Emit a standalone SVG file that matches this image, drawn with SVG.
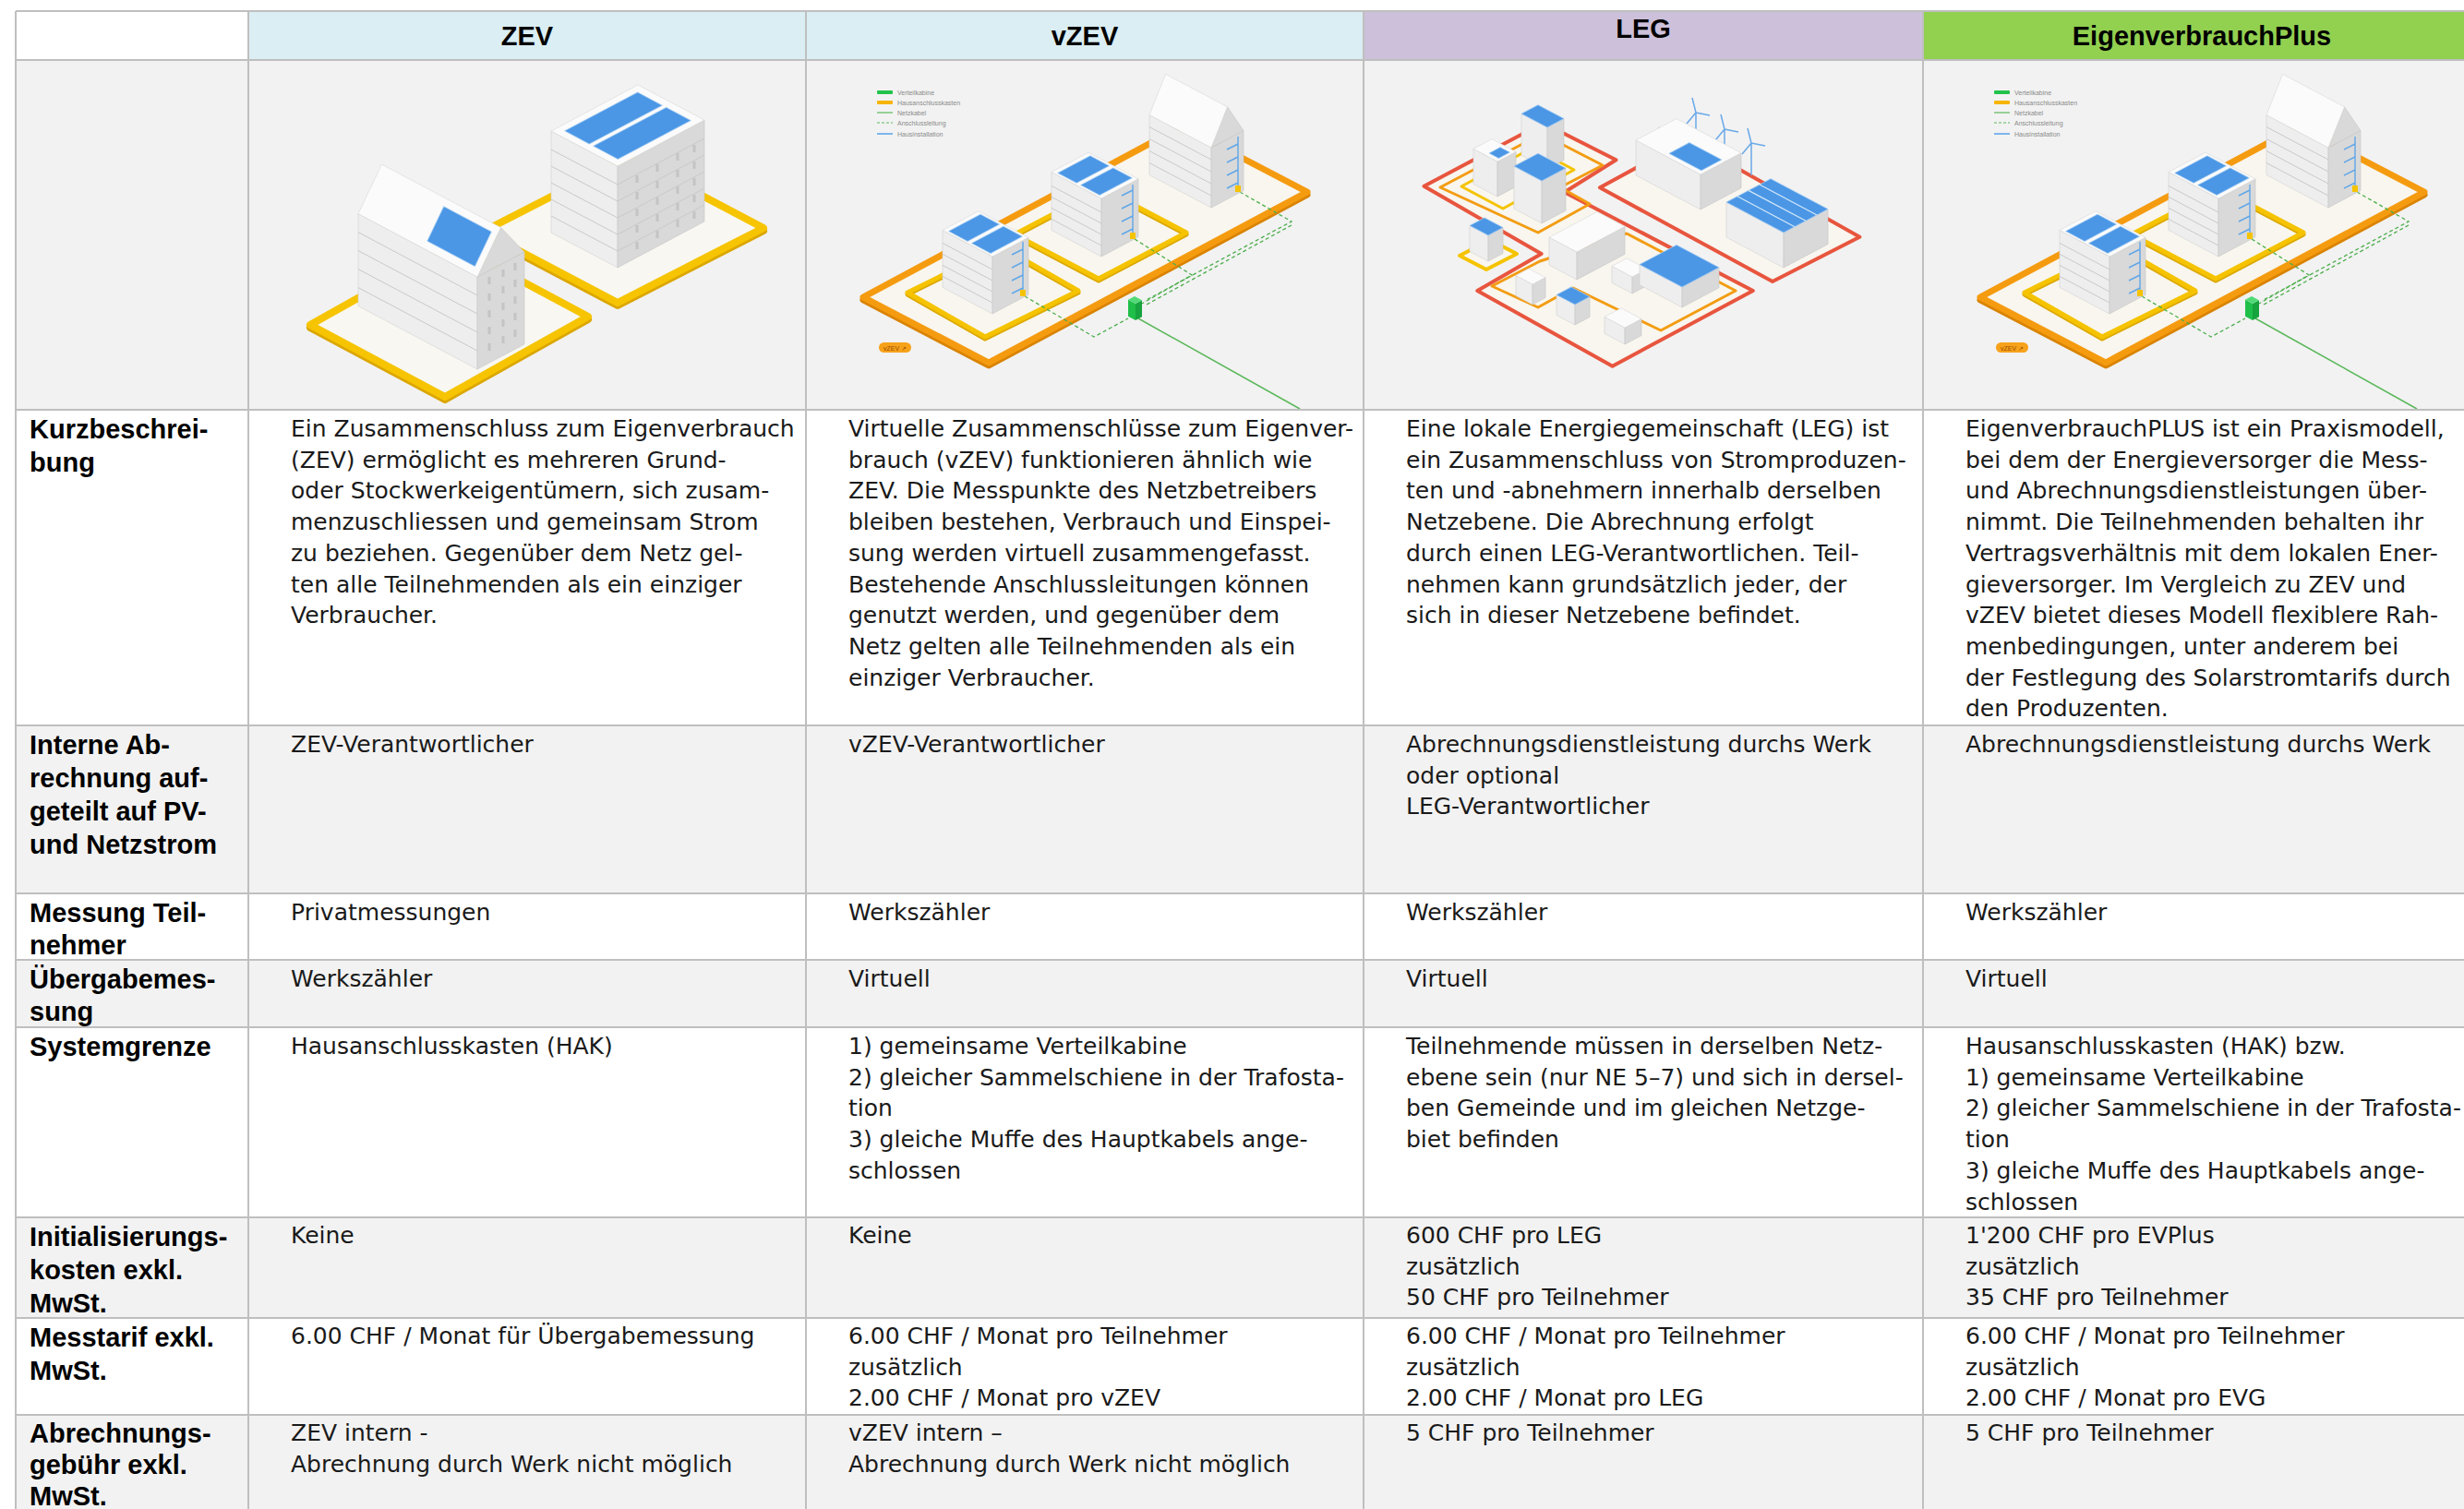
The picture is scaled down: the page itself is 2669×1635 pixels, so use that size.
<svg xmlns="http://www.w3.org/2000/svg" width="2669" height="1635" viewBox="0 0 2669 1635">
<style>
.t{font-family:"DejaVu Sans","Noto Sans",sans-serif;font-size:25px;fill:#1a1a1a}
.l{font-family:"Liberation Sans",Arial,sans-serif;font-weight:bold;font-size:29px;fill:#000}
.h{font-family:"Liberation Sans",Arial,sans-serif;font-weight:bold;font-size:29px;fill:#000;text-anchor:middle}
.g{stroke:#bfbfbf;stroke-width:2;fill:none}
.alt{fill:#f2f2f2}
.wl{fill:#eeeeee;stroke:#d2d2d2;stroke-width:.6}
.wr{fill:#d9d9d9;stroke:#c6c6c6;stroke-width:.6}
.wt{fill:#fbfbfb;stroke:#d6d6d6;stroke-width:.6}
.sol{fill:#4b97e6;stroke:#a3ccf3;stroke-width:.8}
.fl{stroke:#c9c9c9;stroke-width:1;fill:none}
.lg{font-family:"Liberation Sans",Arial,sans-serif;font-size:7px;fill:#8a8a8a}
.hi{stroke:#5fa6e8;stroke-width:1.4;fill:none}
.dash{stroke:#4cae4c;stroke-width:1.3;stroke-dasharray:4 3;fill:none}
</style>
<defs>
<g id="vzevArt">
  <rect x="950" y="98" width="17" height="4" rx="1" fill="#22c34b"/>
  <rect x="950" y="109" width="17" height="4" rx="1" fill="#f7b500"/>
  <line x1="950" y1="122" x2="967" y2="122" stroke="#5cb85c" stroke-width="1.2"/>
  <line x1="950" y1="133" x2="967" y2="133" stroke="#5cb85c" stroke-width="1.2" stroke-dasharray="3 2"/>
  <line x1="950" y1="145" x2="967" y2="145" stroke="#7db6ec" stroke-width="2"/>
  <text class="lg" x="972" y="102.5">Verteilkabine</text>
  <text class="lg" x="972" y="113.5">Hausanschlusskasten</text>
  <text class="lg" x="972" y="124.5">Netzkabel</text>
  <text class="lg" x="972" y="135.5">Anschlussleitung</text>
  <text class="lg" x="972" y="147.5">Hausinstallation</text>
  <polygon points="935,325 1071,396 1416,211 1280,140" fill="none" stroke="#d98300" stroke-width="7" stroke-linejoin="round"/>
  <polygon points="935,322 1071,393 1416,208 1280,137" fill="#f8f6ee" stroke="#f59b10" stroke-width="7" stroke-linejoin="round"/>
  <polygon points="983,319 1067,367 1168,317 1084,269" fill="none" stroke="#dca800" stroke-width="5" stroke-linejoin="round"/>
  <polygon points="983,317 1067,365 1168,315 1084,267" fill="none" stroke="#f5c300" stroke-width="5" stroke-linejoin="round"/>
  <polygon points="1099,256 1190,304 1285,254 1194,206" fill="none" stroke="#dca800" stroke-width="5" stroke-linejoin="round"/>
  <polygon points="1099,254 1190,302 1285,252 1194,204" fill="none" stroke="#f5c300" stroke-width="5" stroke-linejoin="round"/>
  <path class="dash" d="M1110,321 L1185,365 L1222,345"/>
  <path class="dash" d="M1229,259 L1291,298 L1237,329"/>
  <path class="dash" d="M1343,208 L1399,240 L1240,326"/>
  <path class="dash" d="M1399,244 L1242,330"/>
  <path d="M1233,345 L1408,443" stroke="#5bb85b" stroke-width="1.5" fill="none"/>
  <rect x="952" y="371" width="35" height="11" rx="5.5" fill="#f7a21b"/>
  <text x="969.5" y="379.5" style="font-family:'Liberation Sans',Arial,sans-serif;font-size:7px;fill:#9a4d00;text-anchor:middle">vZEV ↗</text>
  <polygon class="wl" points="1245,189.5 1312,225 1312,160 1245,124.5"/>
  <polygon class="wr" points="1312,225 1347,206.5 1347,141.5 1312,160"/>
  <polygon class="wr" points="1312,160 1347,141.5 1329.5,115.8"/>
  <polygon class="wt" points="1245,124.5 1312,160 1329.5,115.8 1262.5,80.3"/>
  <path class="fl" d="M1245,176.5 L1312,212 M1245,163.5 L1312,199 M1245,150.5 L1312,186 M1245,137.5 L1312,173"/>
  <path class="hi" d="M1341,207 V148 M1341,156 l-12,6 M1341,170 l-12,6 M1341,184 l-12,6 M1341,198 l-12,6"/>
  <rect x="1338" y="201" width="6" height="7" fill="#f5c300"/>
  <polygon class="wl" points="1139,249.4 1193,278 1193,215 1139,186.4"/>
  <polygon class="wr" points="1193,278 1233,256.8 1233,193.8 1193,215"/>
  <polygon class="wt" points="1139,186.4 1193,215 1233,193.8 1179,165.2"/>
  <polygon class="sol" points="1145.7,187.4 1166.2,198.3 1201.4,179.7 1180.9,168.8"/>
  <polygon class="sol" points="1170.6,200.5 1191.1,211.4 1226.3,192.8 1205.8,181.9"/>
  <path class="fl" d="M1139,237.4 L1193,266 M1139,225.4 L1193,254 M1139,213.4 L1193,242 M1139,201.4 L1193,230"/>
  <path class="hi" d="M1227,258 V200 M1227,206 l-12,6 M1227,220 l-12,6 M1227,234 l-12,6 M1227,248 l-12,6"/>
  <rect x="1224" y="252" width="6" height="7" fill="#f5c300"/>
  <polygon class="wl" points="1021,311.4 1075,340 1075,278 1021,249.4"/>
  <polygon class="wr" points="1075,340 1114,319.3 1114,257.3 1075,278"/>
  <polygon class="wt" points="1021,249.4 1075,278 1114,257.3 1060,228.7"/>
  <polygon class="sol" points="1027.6,250.5 1048.1,261.4 1082.5,243.1 1062,232.2"/>
  <polygon class="sol" points="1052.5,263.6 1073,274.5 1107.4,256.2 1086.9,245.3"/>
  <path class="fl" d="M1021,299.4 L1075,328 M1021,287.4 L1075,316 M1021,275.4 L1075,304 M1021,263.4 L1075,292"/>
  <path class="hi" d="M1108,320 V262 M1108,270 l-12,6 M1108,284 l-12,6 M1108,298 l-12,6 M1108,312 l-12,6"/>
  <rect x="1105" y="314" width="6" height="7" fill="#f5c300"/>
  <polygon points="1222,342.8 1230,347 1230,329 1222,324.8" fill="#1fbf4a"/>
  <polygon points="1230,347 1237,343.3 1237,325.3 1230,329" fill="#17a33d"/>
  <polygon points="1222,324.8 1230,329 1237,325.3 1229,321.1" fill="#52d977"/>
</g>
</defs>

<g id="backgrounds">
  <rect x="0" y="0" width="2669" height="1635" fill="#ffffff"/>
  <rect x="269" y="12" width="1208" height="53" fill="#daeef3"/>
  <rect x="1477" y="12" width="606" height="53" fill="#ccc0da"/>
  <rect x="2083" y="12" width="586" height="53" fill="#92d050"/>
  <rect class="alt" x="17" y="65" width="2652" height="379"/>
  <rect class="alt" x="17" y="786" width="2652" height="182"/>
  <rect class="alt" x="17" y="1040" width="2652" height="73"/>
  <rect class="alt" x="17" y="1319" width="2652" height="109"/>
  <rect class="alt" x="17" y="1533" width="2652" height="102"/>
</g>

<g id="img-zev">
  <polygon points="523,254 669,331 827,250 681,173" fill="none" stroke="#dba600" stroke-width="8" stroke-linejoin="round"/>
  <polygon points="523,251 669,328 827,247 681,170" fill="#f8f7f1" stroke="#f6c400" stroke-width="8" stroke-linejoin="round"/>
  <polygon class="wl" points="597,252 669,290 669,180 597,142"/>
  <polygon class="wr" points="669,290 763,240 763,130 669,180"/>
  <polygon class="wt" points="597,142 669,180 763,130 691,92"/>
  <polygon class="sol" points="611.7,141.8 638.3,156 717.3,114.2 690.7,100"/>
  <polygon class="sol" points="642.7,158.2 669.3,172.4 748.3,130.6 721.7,116.4"/>
  <path class="fl" d="M597,234 L669,272 M597,216 L669,254 M597,198 L669,236 M597,180 L669,218 M597,162 L669,200"/>
  <path class="fl" d="M669,272 L763,222 M669,254 L763,204 M669,236 L763,186 M669,218 L763,168 M669,200 L763,150"/>
  <path d="M690,190 v90 M712,178 v90 M734,166 v90 M752,157 v90" stroke="#c4c4c4" stroke-width="3" stroke-dasharray="8 10" fill="none"/>
  <polygon points="336,355 482,433 637,346 491,268" fill="none" stroke="#dba600" stroke-width="8" stroke-linejoin="round"/>
  <polygon points="336,352 482,430 637,343 491,265" fill="#f8f7f1" stroke="#f6c400" stroke-width="8" stroke-linejoin="round"/>
  <polygon class="wl" points="388,331.6 517,400 517,300 388,231.6"/>
  <polygon class="wr" points="517,400 568,373 568,273 517,300"/>
  <polygon class="wr" points="517,300 568,273 542.5,246.5"/>
  <polygon class="wt" points="388,231.6 517,300 542.5,246.5 413.5,178.1"/>
  <polygon class="sol" points="462.8,261.2 514.4,288.6 532.3,251.1 480.7,223.7"/>
  <path class="fl" d="M388,311.6 L517,380 M388,291.6 L517,360 M388,271.6 L517,340 M388,251.6 L517,320"/>
  <path d="M530,300 v85 M545,292 v85 M558,285 v80" stroke="#c4c4c4" stroke-width="3" stroke-dasharray="8 10" fill="none"/>
</g>

<g id="img-vzev">
  <use href="#vzevArt"/>
</g>

<g id="img-leg">
  <polygon points="1671.5,133.3 1750.5,173.3 1694.6,208.3 1898.8,315 1746.6,396.7 1600.3,315 1669.6,275 1542.5,201.7" fill="#f8f6ee" stroke="#e8553e" stroke-width="4" stroke-linejoin="round"/>
  <polygon points="1827.5,151.7 2014.4,256.7 1920,305 1733,203.3" fill="#f8f6ee" stroke="#e8553e" stroke-width="4" stroke-linejoin="round"/>
  <polygon points="1560,203 1670,145 1736,179 1690,203 1722,221 1666,252" fill="none" stroke="#f39c12" stroke-width="3" stroke-linejoin="round"/>
  <polygon points="1583,202 1660,160 1705,184 1628,226" fill="none" stroke="#f5c300" stroke-width="3" stroke-linejoin="round"/>
  <polygon points="1668,283 1616,310 1666,333 1704,312 1799,358 1880,315 1762,253" fill="none" stroke="#f39c12" stroke-width="3" stroke-linejoin="round"/>
  <polygon points="1581,277 1614,260 1643,275 1610,292" fill="#f8f6ee" stroke="#f5c300" stroke-width="4" stroke-linejoin="round"/>
  <g stroke="#6aa9e9" stroke-width="1.5" fill="none">
    <path d="M1837,122 V157 M1837,122 l-4,-16 M1837,122 l15,3 M1837,122 l-10,12"/>
    <path d="M1868,140 V175 M1868,140 l-4,-16 M1868,140 l15,3 M1868,140 l-10,12"/>
    <path d="M1897,155 V190 M1897,155 l-4,-16 M1897,155 l15,3 M1897,155 l-10,12"/>
  </g>
  <polygon class="wl" points="1648,168.2 1676,183 1676,138 1648,123.2"/>
  <polygon class="wr" points="1676,183 1694,173.5 1694,128.5 1676,138"/>
  <polygon class="sol" points="1648,123.2 1676,138 1694,128.5 1666,113.7"/>
  <polygon class="wl" points="1596,199.2 1622,213 1622,175 1596,161.2"/>
  <polygon class="wr" points="1622,213 1642,202.4 1642,164.4 1622,175"/>
  <polygon class="wt" points="1596,161.2 1622,175 1642,164.4 1616,150.6"/>
  <polygon class="sol" points="1613,166 1623.4,171.5 1635.4,165.1 1625,159.6"/>
  <rect x="1796" y="138" width="5" height="34" fill="#e2e2e2" stroke="#cfcfcf" stroke-width=".6"/>
  <rect x="1804" y="146" width="5" height="28" fill="#e2e2e2" stroke="#cfcfcf" stroke-width=".6"/>
  <polygon class="wl" points="1772,189.9 1842,227 1842,189 1772,151.9"/>
  <polygon class="wr" points="1842,227 1886,203.7 1886,165.7 1842,189"/>
  <polygon class="wt" points="1772,151.9 1842,189 1886,165.7 1816,128.6"/>
  <polygon class="sol" points="1807.9,166.3 1842.9,184.8 1864.9,173.1 1829.9,154.6"/>
  <polygon class="wl" points="1640,226.1 1670,242 1670,196 1640,180.1"/>
  <polygon class="wr" points="1670,242 1696,228.2 1696,182.2 1670,196"/>
  <polygon class="sol" points="1640,180.1 1670,196 1696,182.2 1666,166.3"/>
  <polygon class="wl" points="1870,257.1 1932,290 1932,252 1870,219.1"/>
  <polygon class="wr" points="1932,290 1980,264.6 1980,226.6 1932,252"/>
  <polygon class="sol" points="1870,219.1 1932,252 1980,226.6 1918,193.7"/>
  <path d="M1882,212.8 L1944,245.7 M1894,206.4 L1956,239.3 M1906,200 L1968,233" stroke="#d6e8f8" stroke-width="1.2" fill="none"/>
  <polygon class="wl" points="1592,272.4 1612,283 1612,255 1592,244.4"/>
  <polygon class="wr" points="1612,283 1628,274.5 1628,246.5 1612,255"/>
  <polygon class="sol" points="1592,244.4 1612,255 1628,246.5 1608,235.9"/>
  <polygon class="wl" points="1678,287.1 1708,303 1708,273 1678,257.1"/>
  <polygon class="wr" points="1708,303 1760,275.4 1760,245.4 1708,273"/>
  <polygon class="wt" points="1678,257.1 1708,273 1760,245.4 1730,229.5"/>
  <polygon class="wl" points="1746,306.3 1768,318 1768,300 1746,288.3"/>
  <polygon class="wr" points="1768,318 1784,309.5 1784,291.5 1768,300"/>
  <polygon class="wt" points="1746,288.3 1768,300 1784,291.5 1762,279.8"/>
  <polygon class="wl" points="1776,308.6 1822,333 1822,311 1776,286.6"/>
  <polygon class="wr" points="1822,333 1862,311.8 1862,289.8 1822,311"/>
  <polygon class="sol" points="1776,286.6 1822,311 1862,289.8 1816,265.4"/>
  <polygon class="wl" points="1642,320.5 1660,330 1660,308 1642,298.5"/>
  <polygon class="wr" points="1660,330 1674,322.6 1674,300.6 1660,308"/>
  <polygon class="wt" points="1642,298.5 1660,308 1674,300.6 1656,291.1"/>
  <polygon class="wl" points="1686,341.4 1706,352 1706,330 1686,319.4"/>
  <polygon class="wr" points="1706,352 1722,343.5 1722,321.5 1706,330"/>
  <polygon class="sol" points="1686,319.4 1706,330 1722,321.5 1702,310.9"/>
  <polygon class="wl" points="1738,361.3 1760,373 1760,355 1738,343.3"/>
  <polygon class="wr" points="1760,373 1778,363.5 1778,345.5 1760,355"/>
  <polygon class="wt" points="1738,343.3 1760,355 1778,345.5 1756,333.8"/>
</g>

<g id="img-evplus">
  <use href="#vzevArt" transform="translate(1210,0)"/>
</g>

<g id="grid">
  <path class="g" d="M17,12 H2669 M17,65 H2669 M17,444 H2669 M17,786 H2669 M17,968 H2669 M17,1040 H2669 M17,1113 H2669 M17,1319 H2669 M17,1428 H2669 M17,1533 H2669"/>
  <path class="g" d="M17,12 V1635 M269,12 V1635 M873,12 V1635 M1477,12 V1635 M2083,12 V1635"/>
</g>

<g id="header">
  <text class="h" x="571" y="49">ZEV</text>
  <text class="h" x="1175" y="49">vZEV</text>
  <text class="h" x="1780" y="41">LEG</text>
  <text class="h" x="2385" y="49">EigenverbrauchPlus</text>
</g>

<g id="row-kurzbeschreibung">
  <text class="l" x="32" y="475"><tspan x="32">Kurzbeschrei-</tspan><tspan x="32" dy="36">bung</tspan></text>
  <text class="t" x="315" y="473"><tspan x="315">Ein Zusammenschluss zum Eigenverbrauch</tspan><tspan x="315" dy="33.7">(ZEV) ermöglicht es mehreren Grund-</tspan><tspan x="315" dy="33.7">oder Stockwerkeigentümern, sich zusam-</tspan><tspan x="315" dy="33.7">menzuschliessen und gemeinsam Strom</tspan><tspan x="315" dy="33.7">zu beziehen. Gegenüber dem Netz gel-</tspan><tspan x="315" dy="33.7">ten alle Teilnehmenden als ein einziger</tspan><tspan x="315" dy="33.7">Verbraucher.</tspan></text>
  <text class="t" x="919" y="473"><tspan x="919">Virtuelle Zusammenschlüsse zum Eigenver-</tspan><tspan x="919" dy="33.7">brauch (vZEV) funktionieren ähnlich wie</tspan><tspan x="919" dy="33.7">ZEV. Die Messpunkte des Netzbetreibers</tspan><tspan x="919" dy="33.7">bleiben bestehen, Verbrauch und Einspei-</tspan><tspan x="919" dy="33.7">sung werden virtuell zusammengefasst.</tspan><tspan x="919" dy="33.7">Bestehende Anschlussleitungen können</tspan><tspan x="919" dy="33.7">genutzt werden, und gegenüber dem</tspan><tspan x="919" dy="33.7">Netz gelten alle Teilnehmenden als ein</tspan><tspan x="919" dy="33.7">einziger Verbraucher.</tspan></text>
  <text class="t" x="1523" y="473"><tspan x="1523">Eine lokale Energiegemeinschaft (LEG) ist</tspan><tspan x="1523" dy="33.7">ein Zusammenschluss von Stromproduzen-</tspan><tspan x="1523" dy="33.7">ten und -abnehmern innerhalb derselben</tspan><tspan x="1523" dy="33.7">Netzebene. Die Abrechnung erfolgt</tspan><tspan x="1523" dy="33.7">durch einen LEG-Verantwortlichen. Teil-</tspan><tspan x="1523" dy="33.7">nehmen kann grundsätzlich jeder, der</tspan><tspan x="1523" dy="33.7">sich in dieser Netzebene befindet.</tspan></text>
  <text class="t" x="2129" y="473"><tspan x="2129">EigenverbrauchPLUS ist ein Praxismodell,</tspan><tspan x="2129" dy="33.7">bei dem der Energieversorger die Mess-</tspan><tspan x="2129" dy="33.7">und Abrechnungsdienstleistungen über-</tspan><tspan x="2129" dy="33.7">nimmt. Die Teilnehmenden behalten ihr</tspan><tspan x="2129" dy="33.7">Vertragsverhältnis mit dem lokalen Ener-</tspan><tspan x="2129" dy="33.7">gieversorger. Im Vergleich zu ZEV und</tspan><tspan x="2129" dy="33.7">vZEV bietet dieses Modell flexiblere Rah-</tspan><tspan x="2129" dy="33.7">menbedingungen, unter anderem bei</tspan><tspan x="2129" dy="33.7">der Festlegung des Solarstromtarifs durch</tspan><tspan x="2129" dy="33.7">den Produzenten.</tspan></text>
</g>

<g id="row-interne-abrechnung">
  <text class="l" x="32" y="817"><tspan x="32">Interne Ab-</tspan><tspan x="32" dy="36">rechnung auf-</tspan><tspan x="32" dy="36">geteilt auf PV-</tspan><tspan x="32" dy="36">und Netzstrom</tspan></text>
  <text class="t" x="315" y="815">ZEV-Verantwortlicher</text>
  <text class="t" x="919" y="815">vZEV-Verantwortlicher</text>
  <text class="t" x="1523" y="815"><tspan x="1523">Abrechnungsdienstleistung durchs Werk</tspan><tspan x="1523" dy="33.7">oder optional</tspan><tspan x="1523" dy="33.7">LEG-Verantwortlicher</tspan></text>
  <text class="t" x="2129" y="815">Abrechnungsdienstleistung durchs Werk</text>
</g>

<g id="row-messung">
  <text class="l" x="32" y="999"><tspan x="32">Messung Teil-</tspan><tspan x="32" dy="35">nehmer</tspan></text>
  <text class="t" x="315" y="997">Privatmessungen</text>
  <text class="t" x="919" y="997">Werkszähler</text>
  <text class="t" x="1523" y="997">Werkszähler</text>
  <text class="t" x="2129" y="997">Werkszähler</text>
</g>

<g id="row-uebergabemessung">
  <text class="l" x="32" y="1071"><tspan x="32">Übergabemes-</tspan><tspan x="32" dy="35">sung</tspan></text>
  <text class="t" x="315" y="1069">Werkszähler</text>
  <text class="t" x="919" y="1069">Virtuell</text>
  <text class="t" x="1523" y="1069">Virtuell</text>
  <text class="t" x="2129" y="1069">Virtuell</text>
</g>

<g id="row-systemgrenze">
  <text class="l" x="32" y="1144">Systemgrenze</text>
  <text class="t" x="315" y="1142">Hausanschlusskasten (HAK)</text>
  <text class="t" x="919" y="1142"><tspan x="919">1) gemeinsame Verteilkabine</tspan><tspan x="919" dy="33.7">2) gleicher Sammelschiene in der Trafosta-</tspan><tspan x="919" dy="33.7">tion</tspan><tspan x="919" dy="33.7">3) gleiche Muffe des Hauptkabels ange-</tspan><tspan x="919" dy="33.7">schlossen</tspan></text>
  <text class="t" x="1523" y="1142"><tspan x="1523">Teilnehmende müssen in derselben Netz-</tspan><tspan x="1523" dy="33.7">ebene sein (nur NE 5–7) und sich in dersel-</tspan><tspan x="1523" dy="33.7">ben Gemeinde und im gleichen Netzge-</tspan><tspan x="1523" dy="33.7">biet befinden</tspan></text>
  <text class="t" x="2129" y="1142"><tspan x="2129">Hausanschlusskasten (HAK) bzw.</tspan><tspan x="2129" dy="33.7">1) gemeinsame Verteilkabine</tspan><tspan x="2129" dy="33.7">2) gleicher Sammelschiene in der Trafosta-</tspan><tspan x="2129" dy="33.7">tion</tspan><tspan x="2129" dy="33.7">3) gleiche Muffe des Hauptkabels ange-</tspan><tspan x="2129" dy="33.7">schlossen</tspan></text>
</g>

<g id="row-initialisierungskosten">
  <text class="l" x="32" y="1350"><tspan x="32">Initialisierungs-</tspan><tspan x="32" dy="36">kosten exkl.</tspan><tspan x="32" dy="36">MwSt.</tspan></text>
  <text class="t" x="315" y="1347">Keine</text>
  <text class="t" x="919" y="1347">Keine</text>
  <text class="t" x="1523" y="1347"><tspan x="1523">600 CHF pro LEG</tspan><tspan x="1523" dy="33.7">zusätzlich</tspan><tspan x="1523" dy="33.7">50 CHF pro Teilnehmer</tspan></text>
  <text class="t" x="2129" y="1347"><tspan x="2129">1'200 CHF pro EVPlus</tspan><tspan x="2129" dy="33.7">zusätzlich</tspan><tspan x="2129" dy="33.7">35 CHF pro Teilnehmer</tspan></text>
</g>

<g id="row-messtarif">
  <text class="l" x="32" y="1459"><tspan x="32">Messtarif exkl.</tspan><tspan x="32" dy="36">MwSt.</tspan></text>
  <text class="t" x="315" y="1456">6.00 CHF / Monat für Übergabemessung</text>
  <text class="t" x="919" y="1456"><tspan x="919">6.00 CHF / Monat pro Teilnehmer</tspan><tspan x="919" dy="33.7">zusätzlich</tspan><tspan x="919" dy="33.7">2.00 CHF / Monat pro vZEV</tspan></text>
  <text class="t" x="1523" y="1456"><tspan x="1523">6.00 CHF / Monat pro Teilnehmer</tspan><tspan x="1523" dy="33.7">zusätzlich</tspan><tspan x="1523" dy="33.7">2.00 CHF / Monat pro LEG</tspan></text>
  <text class="t" x="2129" y="1456"><tspan x="2129">6.00 CHF / Monat pro Teilnehmer</tspan><tspan x="2129" dy="33.7">zusätzlich</tspan><tspan x="2129" dy="33.7">2.00 CHF / Monat pro EVG</tspan></text>
</g>

<g id="row-abrechnungsgebuehr">
  <text class="l" x="32" y="1563"><tspan x="32">Abrechnungs-</tspan><tspan x="32" dy="34">gebühr exkl.</tspan><tspan x="32" dy="34">MwSt.</tspan></text>
  <text class="t" x="315" y="1561"><tspan x="315">ZEV intern -</tspan><tspan x="315" dy="33.7">Abrechnung durch Werk nicht möglich</tspan></text>
  <text class="t" x="919" y="1561"><tspan x="919">vZEV intern –</tspan><tspan x="919" dy="33.7">Abrechnung durch Werk nicht möglich</tspan></text>
  <text class="t" x="1523" y="1561">5 CHF pro Teilnehmer</text>
  <text class="t" x="2129" y="1561">5 CHF pro Teilnehmer</text>
</g>
</svg>
